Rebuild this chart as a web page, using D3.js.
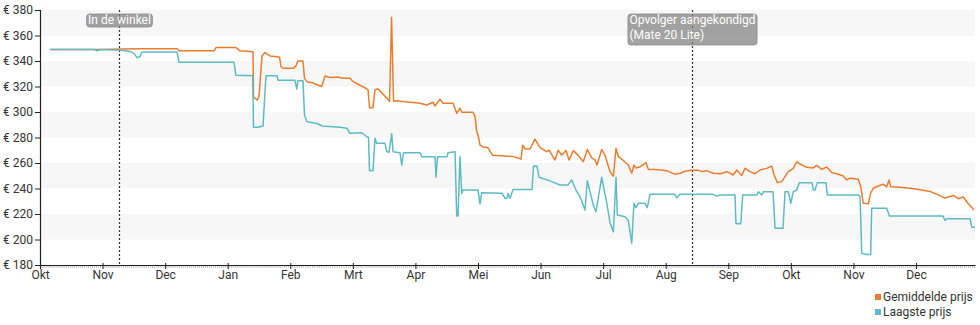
<!DOCTYPE html>
<html>
<head>
<meta charset="utf-8">
<script src="https://cdn.jsdelivr.net/npm/d3@7"></script>
<style>
  html, body { margin: 0; padding: 0; background: #fff; }
  svg { display: block; font-family: Roboto, "Noto Sans", sans-serif; }
</style>
</head>
<body>
<svg id="chart" width="980" height="325"></svg>
<script>
// x values: months since 1 Okt 2017 (fractional); y values: price in euro
const monthLabels = ["Okt","Nov","Dec","Jan","Feb","Mrt","Apr","Mei","Jun","Jul","Aug","Sep","Okt","Nov","Dec"];
const monthDays   = [31,30,31,31,28,31,30,31,30,31,31,30,31,30,31];
const priceTicks  = [180,200,220,240,260,280,300,320,340,360,380];
const seriesNames = ["Gemiddelde prijs","Laagste prijs"];
const seriesColors = ["#ec7d2f","#5dbcc3"];

const gemiddeldePrijs = [
  [0.160,349],[0.959,349],[1.327,349.4],[1.598,349.6],[2.190,349.6],[2.222,348],[2.781,348],[2.813,350.5],
  [3.132,350.5],[3.196,348],[3.404,347.3],[3.412,312],[3.468,309.4],[3.500,312],[3.548,344],[3.596,346.6],
  [3.676,344],[3.788,343.4],[3.828,343],[3.852,335.5],[3.884,334.3],[4.043,334.3],[4.091,336],[4.123,340],
  [4.203,340],[4.227,326.4],[4.267,323.8],[4.347,323],[4.443,321],[4.502,320],[4.555,328.2],[4.635,327],
  [4.763,327.5],[4.827,326.5],[4.954,326.5],[5.002,324],[5.114,321],[5.194,319],[5.242,317.6],[5.266,303.4],
  [5.322,303.4],[5.354,317.6],[5.402,318],[5.482,314],[5.546,310.7],[5.586,308.5],[5.618,374.3],[5.650,308.5],
  [5.706,308.9],[5.833,308],[5.913,307.6],[6.073,306.8],[6.180,305.5],[6.281,307.6],[6.313,304.7],[6.393,310],
  [6.441,306.8],[6.601,306.8],[6.660,299],[6.712,303],[6.740,299.8],[6.920,299.8],[6.952,296.6],[6.979,284.6],
  [7.000,282],[7.032,274],[7.080,272.6],[7.160,272],[7.219,267],[7.240,266],[7.432,265.5],[7.560,265],
  [7.639,264],[7.687,263],[7.715,274],[7.751,271],[7.831,271],[7.911,278.7],[7.991,272],[8.098,268.9],
  [8.135,270],[8.231,262.4],[8.279,270],[8.338,266.3],[8.407,269.8],[8.455,262.4],[8.523,269.7],[8.603,266],
  [8.683,261],[8.747,270.7],[8.817,264],[8.870,262.4],[8.902,258.4],[8.977,270.7],[9.030,266],[9.110,253.2],
  [9.163,249.6],[9.206,271.5],[9.243,265],[9.322,262],[9.402,258.4],[9.457,251.9],[9.493,258.4],[9.525,256],
  [9.589,257],[9.685,260.2],[9.722,255],[9.797,255],[9.909,254.5],[10.016,254],[10.149,251.1],[10.228,252],
  [10.308,253.5],[10.420,254.4],[10.516,254.4],[10.575,253.4],[10.655,254],[10.761,252],[10.868,251.6],[10.975,253.2],
  [11.080,250.6],[11.135,254.5],[11.215,250.2],[11.267,255.8],[11.347,253.2],[11.427,251.6],[11.507,254.5],[11.614,255.8],
  [11.694,257.6],[11.731,251],[11.784,244.6],[11.854,245.4],[11.907,249.3],[11.960,253.2],[12.039,255.8],[12.094,261],
  [12.146,259.2],[12.253,256.6],[12.359,256.1],[12.413,258.1],[12.493,255],[12.573,256.9],[12.653,252.5],[12.733,251.6],
  [12.838,249.8],[12.893,246.7],[12.945,248.1],[13.078,247.2],[13.117,241.4],[13.158,228.4],[13.238,228],[13.276,236.5],
  [13.318,240.2],[13.398,242],[13.478,243.3],[13.532,241.3],[13.569,246.7],[13.596,241.4],[13.745,240.9],[13.904,240.2],
  [14.064,239],[14.224,237.7],[14.357,235],[14.464,232.5],[14.517,233.3],[14.597,234.6],[14.677,232],[14.756,233.3],
  [14.836,228],[14.927,223.1]
];

const laagstePrijs = [
  [0.160,349],[0.879,349],[0.911,348],[0.959,349],[1.311,348.5],[1.438,347.5],[1.502,346],[1.550,342.6],
  [1.598,343.5],[1.630,347],[2.190,347],[2.222,339],[3.100,339],[3.132,328.8],[3.399,328.5],[3.412,288],
  [3.484,288],[3.564,289],[3.612,328.5],[3.788,328.5],[3.804,325],[4.075,325],[4.103,318],[4.123,324.6],
  [4.203,324.6],[4.227,297.6],[4.267,292.4],[4.427,291],[4.507,289],[4.795,288],[4.906,287.2],[4.954,283.3],
  [5.146,283.7],[5.221,280.6],[5.250,280],[5.266,254],[5.322,254],[5.354,279.4],[5.381,275.4],[5.514,275.4],
  [5.541,269],[5.578,268.5],[5.621,283],[5.642,268.9],[5.754,268],[5.781,258.4],[5.810,268],[6.073,268],
  [6.100,265],[6.313,265],[6.329,248.8],[6.353,265],[6.505,265],[6.521,268],[6.633,268.9],[6.660,218.4],
  [6.681,218.4],[6.712,265],[6.740,236.2],[6.760,238.8],[7.000,238.8],[7.032,227.8],[7.059,236.7],[7.384,236.2],
  [7.432,232.3],[7.464,232.3],[7.480,236],[7.512,232.3],[7.560,239.3],[7.863,239.3],[7.887,257.6],[7.943,257.6],
  [7.975,248.8],[8.023,248],[8.151,246],[8.311,242.7],[8.439,242.7],[8.498,246.7],[8.578,237.5],[8.630,233.7],
  [8.710,223.1],[8.747,246],[8.843,227],[8.886,221.8],[8.977,248.8],[9.057,229],[9.110,213],[9.163,206.1],
  [9.206,248.8],[9.227,219.2],[9.350,217.9],[9.402,215],[9.457,197],[9.493,228.4],[9.525,225],[9.562,228.4],
  [9.669,228.4],[9.706,225],[9.749,235.4],[10.149,235.4],[10.176,232.5],[10.228,235.4],[10.756,235.4],[10.815,234],
  [10.868,235],[11.107,235],[11.123,212.4],[11.199,212.4],[11.231,235],[11.459,235],[11.480,237.5],[11.536,235],
  [11.562,237.5],[11.715,237.5],[11.747,208.8],[11.875,208.8],[11.907,237.5],[11.960,237.5],[11.998,228.4],[12.039,237.5],
  [12.094,238.8],[12.135,244.6],[12.338,244.6],[12.359,238.8],[12.386,238.8],[12.423,244.6],[12.562,244.6],[12.583,235],
  [13.073,235],[13.106,233.7],[13.133,189.1],[13.202,188.2],[13.276,188.2],[13.292,224.5],[13.532,224.5],[13.574,218.4],
  [14.432,218.4],[14.464,215],[14.491,216.3],[14.864,216.3],[14.891,209.7],[14.943,209.7]
];

const eventMonths = [1.263, 10.425];
const eventLabels = [["In de winkel"], ["Opvolger aangekondigd", "(Mate 20 Lite)"]];

(function () {
const svg = d3.select("#chart");
const pL = 40, pR = 975, pT = 10, pB = 265;
const x = d3.scaleLinear().domain([0, 14.943]).range([pL, pR]);
const y = d3.scaleLinear().domain([180, 380]).range([pB, pT]);

// alternating background bands
const bandStarts = d3.range(200, 380, 40);
svg.append("g").selectAll("rect").data(bandStarts).join("rect")
  .attr("x", pL).attr("width", pR - pL)
  .attr("y", d => y(d + 20)).attr("height", d => y(d) - y(d + 20))
  .attr("fill", "#f7f7f7");

// clip
svg.append("defs").append("clipPath").attr("id", "plot")
  .append("rect").attr("x", pL).attr("y", pT - 2).attr("width", pR - pL).attr("height", pB - pT + 2);

// event lines
svg.append("g").selectAll("line").data(eventMonths).join("line")
  .attr("x1", d => Math.round(x(d)) + 0.5).attr("x2", d => Math.round(x(d)) + 0.5)
  .attr("y1", pT).attr("y2", pB)
  .attr("stroke", "#333").attr("stroke-width", 1.2).attr("stroke-dasharray", "2,2");

// lines
const line = d3.line().x(d => x(d[0])).y(d => y(d[1]));
const lg = svg.append("g").attr("clip-path", "url(#plot)");
[gemiddeldePrijs, laagstePrijs].forEach((s, i) => {
  lg.append("path").datum(s).attr("d", line)
    .attr("fill", "none").attr("stroke", seriesColors[i])
    .attr("stroke-width", 1.5).attr("stroke-linejoin", "round");
});

// Y axis
const yAxis = d3.axisLeft(y).tickValues(priceTicks).tickFormat(d => "€ " + d).tickSize(5).tickPadding(2);
const yg = svg.append("g").attr("transform", `translate(${pL},0)`).call(yAxis);
yg.select(".domain").attr("stroke", "#222").attr("stroke-width", 1.2);
yg.selectAll(".tick line").attr("stroke", "#222");
yg.selectAll("text").attr("font-size", 12).attr("fill", "#333").attr("font-family", "Roboto");

// minor day ticks on x axis
const minor = [];
monthDays.forEach((n, m) => { for (let d = 0; d < n; d++) minor.push(m + d / n); });
svg.append("g").selectAll("line").data(minor.filter(t => t <= 14.943)).join("line")
  .attr("x1", d => x(d)).attr("x2", d => x(d))
  .attr("y1", pB + 1).attr("y2", pB + 3)
  .attr("stroke", "#999").attr("stroke-width", 0.6);

// X axis
const xAxis = d3.axisBottom(x).tickValues(d3.range(0, 15)).tickFormat(i => monthLabels[i]).tickSize(4).tickPadding(1).tickSizeOuter(0);
const xg = svg.append("g").attr("transform", `translate(0,${pB})`).call(xAxis);
xg.select(".domain").attr("stroke", "#222").attr("stroke-width", 1.2);
xg.selectAll(".tick line").attr("stroke", "#222").attr("y1", -2);
xg.selectAll("text").attr("font-size", 12).attr("fill", "#333").attr("font-family", "Roboto");

// event labels
eventMonths.forEach((t, i) => {
  const g = svg.append("g");
  const lines = eventLabels[i];
  const txt = g.append("text").attr("font-size", 12).attr("fill", "#fff").attr("font-family", "Roboto");
  lines.forEach((l, j) => txt.append("tspan").attr("x", 0).attr("y", j * 15).text(l));
  const bb = txt.node().getBBox();
  const cx = Math.round(x(t)) + 0.5;
  const bx = cx - bb.width / 2 - 1.5;
  const byTop = 14;
  const h = lines.length * 15 + 1 - (lines.length === 1 ? 3 : 0);
  g.insert("rect", "text")
    .attr("x", bx).attr("y", byTop).attr("width", bb.width + 3).attr("height", h)
    .attr("rx", 3).attr("fill", "#7f7f7f").attr("fill-opacity", 0.72)
    .attr("stroke", "#8a8a8a").attr("stroke-width", 0.8);
  txt.attr("transform", `translate(${bx + 1.5},${byTop + 10})`);
});

// legend
const leg = svg.append("g");
seriesNames.forEach((n, i) => {
  leg.append("rect").attr("x", 875).attr("y", 294 + i * 15).attr("width", 6).attr("height", 6).attr("fill", seriesColors[i]);
  leg.append("text").attr("x", 883).attr("y", 301 + i * 15).attr("font-size", 12)
    .attr("fill", "#333").attr("font-family", "Roboto").text(n);
});
})();
</script>
</body>
</html>
